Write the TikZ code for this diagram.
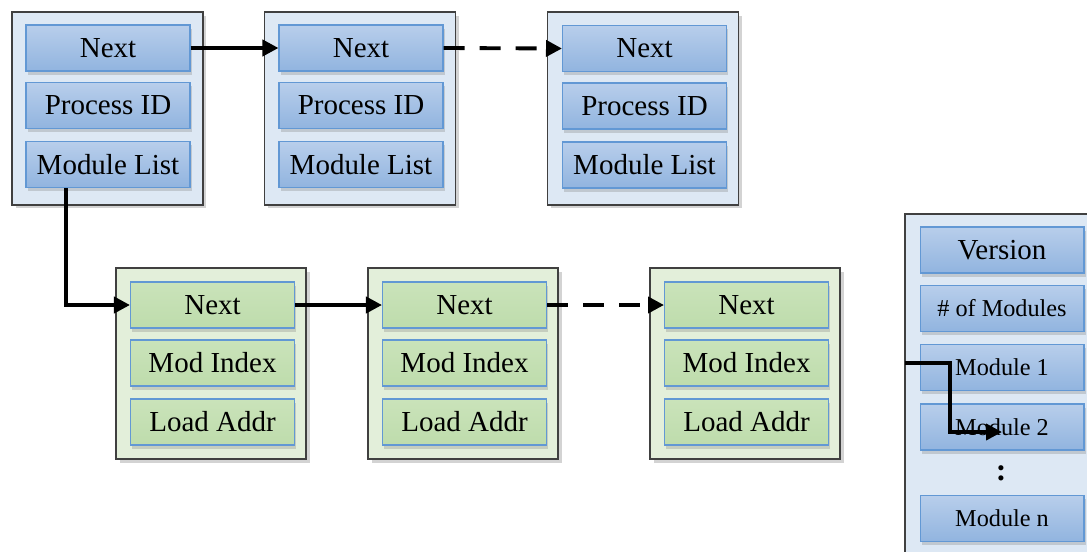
\documentclass[tikz,border=0pt]{standalone}
\usepackage{fontspec}
\setmainfont{Liberation Serif}
\usetikzlibrary{arrows.meta,shadows}

\definecolor{procbg}{RGB}{221,232,244}
\definecolor{modbg}{RGB}{227,239,218}
\definecolor{celltop}{RGB}{184,206,235}
\definecolor{cellbot}{RGB}{145,180,223}
\definecolor{celledge}{RGB}{98,152,212}
\definecolor{gcelltop}{RGB}{202,227,186}
\definecolor{gcellbot}{RGB}{190,220,172}

\begin{document}
\begin{tikzpicture}[x=0.02cm, y=-0.02cm,
    proc/.style={rectangle, draw=black!75, line width=0.8pt, fill=procbg, minimum width=3.82cm, minimum height=3.86cm,
        drop shadow={shadow xshift=2pt, shadow yshift=-2pt, opacity=0.35}},
    mod/.style={proc, fill=modbg, minimum width=3.8cm, minimum height=3.82cm},
    field/.style={rectangle, draw=celledge, line width=0.6pt, top color=celltop, bottom color=cellbot,
        minimum width=3.28cm, minimum height=0.92cm, inner sep=0pt, font=\fontsize{16.5}{19}\selectfont,
        drop shadow={shadow xshift=1pt, shadow yshift=-2pt, opacity=0.3}},
    gfield/.style={field, top color=gcelltop, bottom color=gcellbot},
    small/.style={font=\fontsize{13.8}{16}\selectfont},
    link/.style={line width=2.2pt, -{Triangle[length=3.2mm,width=3.2mm]}},
    dlink/.style={link, dash pattern=on 12pt off 8.5pt},
]
    \useasboundingbox (0,0) rectangle (1087,551);
    \clip (0,0) rectangle (1087,551);

    % process list
    \node[proc] (proc1) at (107.5, 108.5) {};
    \node[field] (pnext1) at (108, 48) {Next};
    \node[field] (ppid1) at (108, 105.5) {Process ID};
    \node[field] (pmods1) at (108, 164.5) {Module List};

    \node[proc] (proc2) at (360, 108.5) {};
    \node[field] (pnext2) at (361, 48) {Next};
    \node[field] (ppid2) at (361, 105.5) {Process ID};
    \node[field] (pmods2) at (361, 164.5) {Module List};

    \node[proc] (proc3) at (643, 108.5) {};
    \node[field] (pnext3) at (644.5, 48.5) {Next};
    \node[field] (ppid3) at (644.5, 106) {Process ID};
    \node[field] (pmods3) at (644.5, 165) {Module List};

    % module list of the first process
    \node[mod] (mod1) at (211, 363.5) {};
    \node[gfield] (mnext1) at (212.5, 305) {Next};
    \node[gfield] (mindex1) at (212.5, 363) {Mod Index};
    \node[gfield] (maddr1) at (212.5, 422) {Load Addr};

    \node[mod] (mod2) at (463, 363.5) {};
    \node[gfield] (mnext2) at (464.5, 305) {Next};
    \node[gfield] (mindex2) at (464.5, 363) {Mod Index};
    \node[gfield] (maddr2) at (464.5, 422) {Load Addr};

    \node[mod] (mod3) at (745, 363.5) {};
    \node[gfield] (mnext3) at (746.5, 305) {Next};
    \node[gfield] (mindex3) at (746.5, 363) {Mod Index};
    \node[gfield] (maddr3) at (746.5, 422) {Load Addr};

    % module table
    \node[proc, minimum width=3.9cm, minimum height=7.12cm] (table) at (1002.5, 392) {};
    \node[field] (ver) at (1002, 250) {Version};
    \node[field, small] (nmods) at (1002, 308.5) {\# of Modules};
    \node[field, small] (tmod1) at (1002, 367.5) {Module 1};
    \node[field, small] (tmod2) at (1002, 427) {Module 2};
    \node[font=\fontsize{18}{20}\selectfont\bfseries] (vdots) at (1001, 473) {:};
    \node[field, small] (tmodn) at (1002, 518.5) {Module n};

    % links
    \draw[link] (pnext1.east) -- (pnext2.west);
    \draw[dlink] (pnext2.east) -- (pnext3.west);
    \coordinate (down) at (66, 188);
    \draw[link] (down) |- (mnext1.west);
    \draw[link] (mnext1.east) -- (mnext2.west);
    \draw[dlink] (mnext2.east) -- (mnext3.west);

    \coordinate (tap) at (905, 363);
    \coordinate (bend) at (950, 432);
    \draw[link] (tap) -| (bend) -- (bend -| tmod2.center);
\end{tikzpicture}
\end{document}
